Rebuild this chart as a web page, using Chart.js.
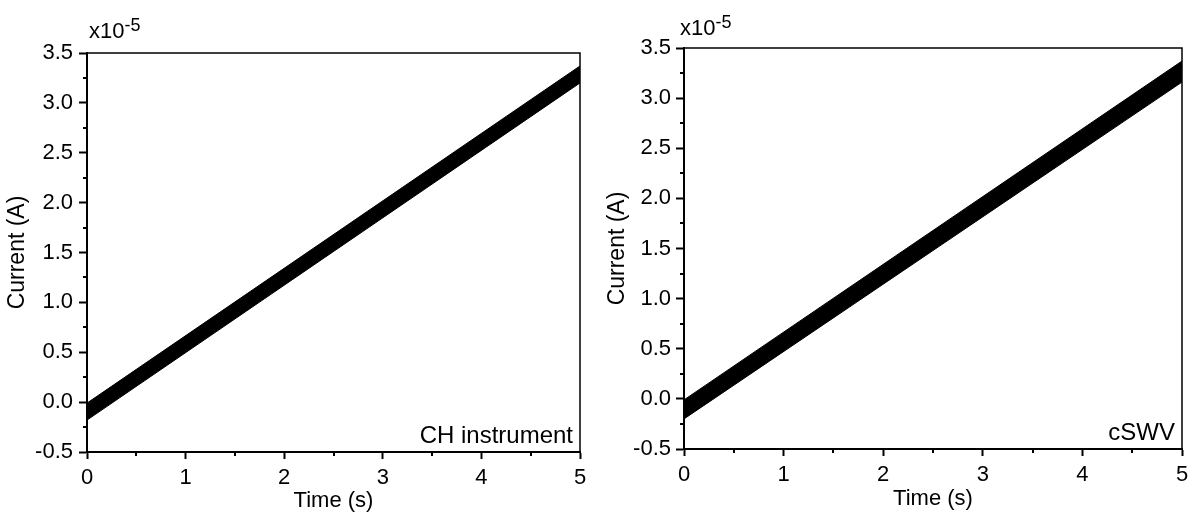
<!DOCTYPE html>
<html>
<head>
<meta charset="utf-8">
<script src="https://cdn.jsdelivr.net/npm/chart.js@4/dist/chart.umd.min.js"></script>
<style>
  html, body { margin: 0; padding: 0; background: #fff; }
  .row { display: flex; width: 1188px; height: 514px; }
  .panel { width: 594px; height: 514px; position: relative; }
</style>
</head>
<body>
<div class="row">
  <div class="panel"><canvas id="left" width="594" height="514"></canvas></div>
  <div class="panel"><canvas id="right" width="594" height="514"></canvas></div>
</div>
<script>
// time axis (s)
const timeS = [0, 5]

// current in units of 1e-5 A, upper and lower edge of the thick trace
const chUpper = [-0.01, 3.37]
const chLower = [-0.18, 3.20]
const swvUpper = [-0.01, 3.37]
const swvLower = [-0.20, 3.16]

const xTicks = [0, 1, 2, 3, 4, 5]
const xMinorTicks = [0.5, 1.5, 2.5, 3.5, 4.5]
const yTicks = [-0.5, 0, 0.5, 1, 1.5, 2, 2.5, 3, 3.5]
const yMinorTicks = [-0.25, 0.25, 0.75, 1.25, 1.75, 2.25, 2.75, 3.25]

const FONT = 'Liberation Sans, Arial, sans-serif'

// frame, minor ticks, exponent label and panel caption
const decorPlugin = {
  id: 'decor',
  afterDraw(chart, args, opts) {
    const { ctx, chartArea: a, scales } = chart
    ctx.save()
    ctx.strokeStyle = '#000'
    ctx.lineWidth = 1.5
    ctx.beginPath()
    ctx.moveTo(a.left, a.top)
    ctx.lineTo(a.right, a.top)
    ctx.lineTo(a.right, a.bottom)
    ctx.stroke()

    // minor ticks
    ctx.lineWidth = 2
    ctx.beginPath()
    for (const v of xMinorTicks) {
      const px = Math.round(scales.x.getPixelForValue(v))
      ctx.moveTo(px, a.bottom)
      ctx.lineTo(px, a.bottom + 4)
    }
    for (const v of yMinorTicks) {
      const py = Math.round(scales.y.getPixelForValue(v))
      ctx.moveTo(a.left, py)
      ctx.lineTo(a.left - 4, py)
    }
    ctx.stroke()

    ctx.fillStyle = '#000'
    ctx.textBaseline = 'alphabetic'
    ctx.textAlign = 'left'
    ctx.font = '22px ' + FONT
    const ex = a.left + opts.expDx
    const ey = a.top - opts.expDy
    ctx.fillText('x10', ex, ey)
    const w = ctx.measureText('x10').width
    ctx.font = '18px ' + FONT
    ctx.fillText('-5', ex + w, ey - 7)

    ctx.font = '24px ' + FONT
    ctx.textAlign = 'right'
    ctx.fillText(opts.caption, a.right - 7, a.bottom - 9)
    ctx.restore()
  }
}

function makePanel(id, upper, lower, g) {
  const ctx = document.getElementById(id).getContext('2d')
  return new Chart(ctx, {
    type: 'line',
    data: {
      labels: timeS,
      datasets: [
        {
          data: timeS.map((t, i) => ({ x: t, y: upper[i] })),
          borderColor: '#000',
          backgroundColor: '#000',
          borderWidth: 1,
          pointRadius: 0,
          fill: '+1'
        },
        {
          data: timeS.map((t, i) => ({ x: t, y: lower[i] })),
          borderColor: '#000',
          borderWidth: 1,
          pointRadius: 0,
          fill: false
        }
      ]
    },
    options: {
      responsive: false,
      animation: false,
      layout: { padding: { top: g.top, right: g.right, left: 0, bottom: 0 } },
      plugins: {
        legend: { display: false },
        tooltip: { enabled: false },
        decor: { caption: g.caption, expDx: g.expDx, expDy: g.expDy }
      },
      scales: {
        x: {
          type: 'linear',
          min: 0,
          max: 5,
          // fixed height, and don't let the end labels shrink the plot area
          afterFit: s => {
            s.height = g.xHeight
            s.paddingLeft = 0
            s.paddingRight = 0
          },
          afterBuildTicks: s => { s.ticks = xTicks.map(v => ({ value: v })) },
          border: { display: true, color: '#000', width: 2 },
          grid: { drawOnChartArea: false, drawTicks: true, tickLength: 7, color: '#000', tickWidth: 2 },
          ticks: { color: '#000', font: { family: FONT, size: 22 }, padding: 6, maxRotation: 0 },
          title: {
            display: true, text: 'Time (s)', color: '#000',
            font: { family: FONT, size: 22 }, padding: { top: g.xTitlePad, bottom: g.xTitlePad }
          }
        },
        y: {
          type: 'linear',
          min: -0.5,
          max: 3.5,
          afterFit: s => { s.width = g.yWidth },
          afterBuildTicks: s => { s.ticks = yTicks.map(v => ({ value: v })) },
          border: { display: true, color: '#000', width: 2 },
          grid: { drawOnChartArea: false, drawTicks: true, tickLength: 8, color: '#000', tickWidth: 2 },
          ticks: {
            color: '#000', font: { family: FONT, size: 22 }, padding: g.yTickPad,
            callback: v => v.toFixed(1)
          },
          title: {
            display: true, text: 'Current (A)', color: '#000',
            font: { family: FONT, size: 23 }, padding: { top: g.yTitlePad, bottom: g.yTitlePad }
          }
        }
      }
    },
    plugins: [decorPlugin]
  })
}

makePanel('left', chUpper, chLower, {
  top: 53, right: 14, xHeight: 62, yWidth: 87,
  yTickPad: 6, yTitlePad: 4, xTitlePad: 0,
  caption: 'CH instrument', expDx: 2, expDy: 15
})

makePanel('right', swvUpper, swvLower, {
  top: 48, right: 6, xHeight: 65, yWidth: 90,
  yTickPad: 5, yTitlePad: 10, xTitlePad: 2,
  caption: 'cSWV', expDx: -4, expDy: 13
})
</script>
</body>
</html>
